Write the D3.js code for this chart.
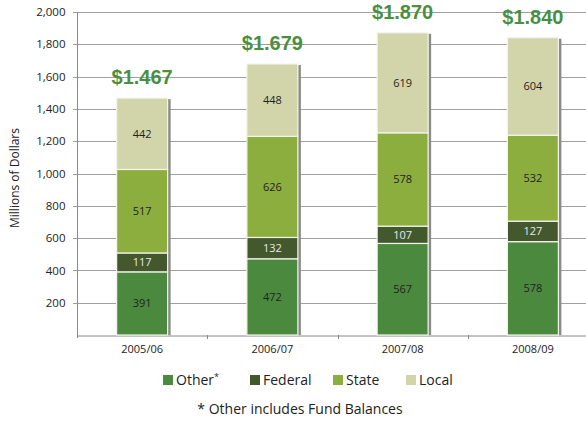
<!DOCTYPE html>
<html>
<head>
<meta charset="utf-8">
<script src="https://cdn.jsdelivr.net/npm/d3@7"></script>
<style>
  body { margin: 0; background: #fff; }
  svg text { font-family: "Open Sans", "Liberation Sans", sans-serif; }
</style>
</head>
<body>
<div id="chart"></div>
<script>
// values, millions of dollars
let years = ["2005/06", "2006/07", "2007/08", "2008/09"];
let other = [391, 472, 567, 578];
let federal = [117, 132, 107, 127];
let state = [517, 626, 578, 532];
let local = [442, 448, 619, 604];
let totals = ["$1.467", "$1.679", "$1.870", "$1.840"];
let yTicks = [200, 400, 600, 800, 1000, 1200, 1400, 1600, 1800, 2000];

let seriesNames = ["Other", "Federal", "State", "Local"];
let colors = ["#4b8a3e", "#43592d", "#8bae3e", "#d2d5aa"];
let labelColors = ["#1f1f1f", "#e8e8e8", "#1f1f1f", "#1f1f1f"];

let width = 586, height = 422;
let svg = d3.select("#chart").append("svg")
    .attr("width", width).attr("height", height);

let x = d3.scaleBand().domain(years).range([77, 598]).padding(0);
let y = d3.scaleLinear().domain([0, 2000]).range([335, 12]);
let barW = 51;

// gridlines
svg.append("g")
    .selectAll("line")
    .data(yTicks)
    .join("line")
        .attr("x1", 73).attr("x2", width)
        .attr("y1", d => Math.round(y(d)) + 0.5)
        .attr("y2", d => Math.round(y(d)) + 0.5)
        .attr("stroke", "#a0a0a0").attr("stroke-width", 1);

// y axis
let yAxis = svg.append("g")
    .attr("transform", "translate(77.5,0)")
    .call(d3.axisLeft(y).tickValues(yTicks).tickSize(4).tickFormat(d3.format(",")));
yAxis.select(".domain").attr("stroke", "#888").attr("d", "M0,12V338");
yAxis.selectAll(".tick line").remove();
yAxis.selectAll("text")
    .attr("x", -12)
    .style("font-size", "11.5px").attr("fill", "#222");

// x axis
let xAxis = svg.append("g")
    .attr("transform", "translate(0,335.5)")
    .call(d3.axisBottom(x).tickSize(0).tickPadding(10));
xAxis.select(".domain").attr("stroke", "#888");
xAxis.selectAll("text").style("font-size", "11px").attr("fill", "#222");
svg.append("g")
    .selectAll("line")
    .data(years.slice(1))
    .join("line")
        .attr("x1", d => Math.round(x(d)) + 0.5).attr("x2", d => Math.round(x(d)) + 0.5)
        .attr("y1", 335).attr("y2", 339)
        .attr("stroke", "#888");

// stacked data
let table = years.map((yr, i) => ({year: yr, Other: other[i], Federal: federal[i], State: state[i], Local: local[i]}));
let stacked = d3.stack().keys(seriesNames)(table);

let cx = d => x(d) + x.bandwidth() / 2;

// shadow on the right side of each bar
svg.append("g")
    .selectAll("rect")
    .data(table)
    .join("rect")
        .attr("x", d => cx(d.year) + barW / 2)
        .attr("y", (d, i) => y(stacked[3][i][1]) + 1)
        .attr("width", 3)
        .attr("height", (d, i) => y(0) - y(stacked[3][i][1]) - 1)
        .attr("fill", "#8a8a8a");

stacked.forEach((s, k) => {
    let g = svg.append("g");
    g.selectAll("rect")
        .data(s)
        .join("rect")
            .attr("x", d => cx(d.data.year) - barW / 2)
            .attr("y", d => y(d[1]))
            .attr("width", barW)
            .attr("height", d => y(d[0]) - y(d[1]))
            .attr("fill", colors[k])
            .attr("stroke", "#f4f4ee").attr("stroke-width", 1.2);
    g.selectAll("text")
        .data(s)
        .join("text")
            .attr("x", d => cx(d.data.year))
            .attr("y", d => (y(d[0]) + y(d[1])) / 2)
            .attr("dy", "0.35em")
            .attr("text-anchor", "middle")
            .style("font-size", "11px")
            .attr("fill", labelColors[k])
            .text(d => d[1] - d[0]);
});

// totals above bars
svg.append("g")
    .selectAll("text")
    .data(table)
    .join("text")
        .attr("x", d => cx(d.year))
        .attr("y", (d, i) => y(stacked[3][i][1]) - 14)
        .attr("text-anchor", "middle")
        .style("font-family", "'Liberation Sans', Arial, sans-serif")
        .style("font-size", "20px").style("font-weight", "bold")
        .attr("fill", "#4a8f3f")
        .text((d, i) => totals[i]);

// y axis title
svg.append("text")
    .attr("transform", "translate(19,178) rotate(-90)")
    .attr("text-anchor", "middle")
    .style("font-size", "12px").attr("fill", "#222")
    .text("Millions of Dollars");

// legend
let legendX = [163, 250, 333, 406];
let legend = svg.append("g");
seriesNames.forEach((name, k) => {
    legend.append("rect")
        .attr("x", legendX[k]).attr("y", 375)
        .attr("width", 10).attr("height", 10)
        .attr("fill", colors[k]);
    let t = legend.append("text")
        .attr("x", legendX[k] + 13).attr("y", 385)
        .style("font-size", "14px").attr("fill", "#222")
        .text(name);
    if (name == "Other") {
        t.append("tspan").attr("dy", -5).style("font-size", "9px").text("*");
    }
});

svg.append("text")
    .attr("x", 300).attr("y", 414)
    .attr("text-anchor", "middle")
    .style("font-size", "14px").attr("fill", "#222")
    .text("* Other includes Fund Balances");
</script>
</body>
</html>
